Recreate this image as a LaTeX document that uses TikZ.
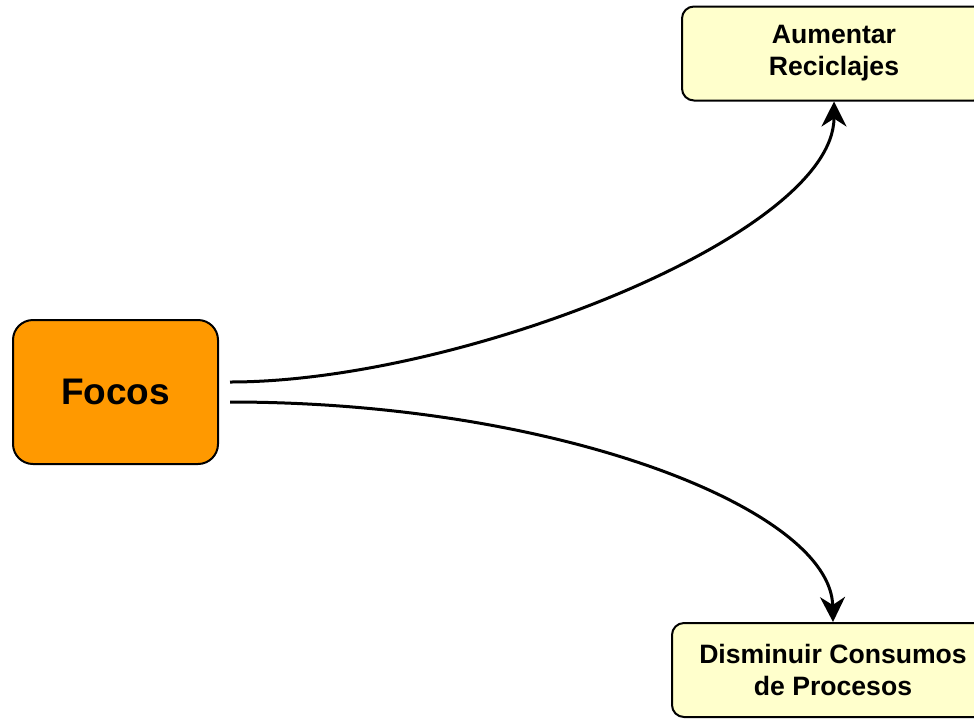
\documentclass[tikz,border=0pt]{standalone}
\usepackage{fontspec}
\setmainfont{Liberation Sans}
\usetikzlibrary{arrows,arrows.meta,positioning}
\definecolor{focoorange}{RGB}{255,153,0}
\definecolor{metayellow}{RGB}{255,255,204}
\tikzset{
  foco/.style={draw,line width=1pt,fill=focoorange,rounded corners=10pt,
    minimum width=102.5pt,minimum height=72pt,font=\bfseries\fontsize{18.5}{20}\selectfont},
  meta/.style={draw,line width=1pt,fill=metayellow,rounded corners=6pt,
    minimum height=47pt,align=center,font=\bfseries\fontsize{13.3}{16}\selectfont},
  flecha/.style={line width=1.5pt,-{Stealth[length=12.5pt,width=12.5pt,inset=4pt]}}
}
\begin{document}
\begin{tikzpicture}[x=0.5pt,y=-0.5pt]
      \useasboundingbox (0,0) rectangle (974,719);
      \clip (0,0) rectangle (974,719);
      \node[foco] (focos) at (115.5,392) {Focos};
      \node[meta,minimum width=152pt] (reciclar) at (834,53.5) {Aumentar\\Reciclajes};
      \node[meta,minimum width=161pt] (consumo) at (833,670) {Disminuir Consumos\\de Procesos};
      \coordinate (s1) at (230,382);
      \coordinate (s2) at (230,402);
      \draw[flecha] (s1) .. controls (460,382) and (834,235) .. (reciclar.south);
      \draw[flecha] (s2) .. controls (560,402) and (831,510) .. (consumo.north);
\end{tikzpicture}
\end{document}
